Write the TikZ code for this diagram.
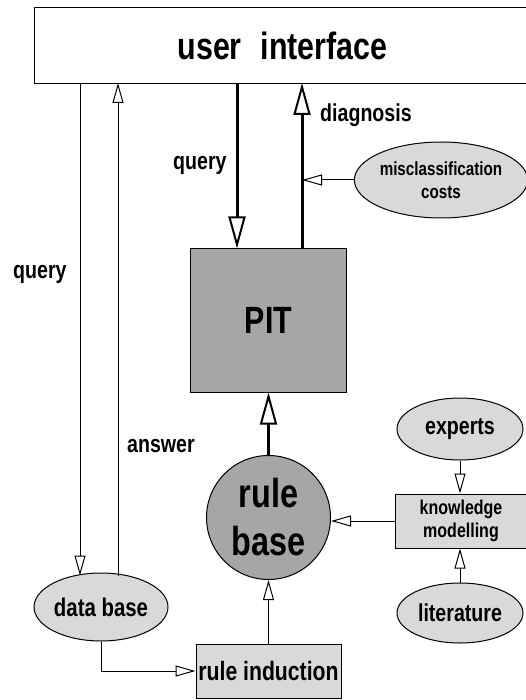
\documentclass[tikz,border=0pt]{standalone}
\usepackage{fontspec}
\setmainfont{Liberation Sans}[FakeStretch=0.8]
\usetikzlibrary{arrows.meta,shapes.geometric}
\definecolor{lightg}{HTML}{D9D9D9}
\definecolor{darkg}{HTML}{A6A6A6}
\tikzset{
  base/.style={draw, line width=1pt, inner sep=0pt, align=center, font=\bfseries},
  ell/.style={base, ellipse, fill=lightg},
  lbox/.style={base, rectangle, fill=lightg},
  thinarr/.style={line width=1pt, -{Triangle[open,length=20pt,width=11pt,line width=1pt]}},
  thickarr/.style={line width=3pt, -{Triangle[open,length=32pt,width=17pt,line width=2pt]}},
  lbl/.style={inner sep=0pt, anchor=base west, font=\bfseries}
}
\begin{document}
\begin{tikzpicture}[x=1pt,y=-1pt]
\useasboundingbox (0,0) rectangle (526,700);
\fill[white] (0,0) rectangle (526,700);
% nodes
\node[base, rectangle, fill=white, minimum width=496pt, minimum height=76pt, anchor=north west,
      font=\bfseries\fontsize{38}{42}\selectfont] (ui) at (34,7) {user\hspace{0.5em}interface};
\node[base, rectangle, fill=darkg, minimum width=156pt, minimum height=143pt,
      font=\bfseries\fontsize{38}{42}\selectfont] (pit) at (268.5,320.5) {PIT};
\node[base, circle, fill=darkg, minimum size=124pt,
      font=\bfseries\fontsize{40.5}{48}\selectfont] (rb) at (268.5,517.5) {rule\\base};
\node[ell, minimum width=172pt, minimum height=76pt,
      font=\bfseries\fontsize{19}{23}\selectfont] (mc) at (441,180) {misclassification\\costs};
\node[ell, minimum width=126pt, minimum height=62pt,
      font=\bfseries\fontsize{24.5}{28}\selectfont] (ex) at (460,429) {experts};
\node[lbox, minimum width=132pt, minimum height=54pt,
      font=\bfseries\fontsize{20}{23}\selectfont] (km) at (461,521) {knowledge\\modelling};
\node[ell, minimum width=126pt, minimum height=60pt,
      font=\bfseries\fontsize{24.5}{28}\selectfont] (lit) at (460,613) {literature};
\node[ell, minimum width=134pt, minimum height=68pt,
      font=\bfseries\fontsize{25.5}{29}\selectfont] (db) at (101,607) {data base};
\node[lbox, minimum width=145pt, minimum height=54pt,
      font=\bfseries\fontsize{26.5}{30}\selectfont] (ri) at (268.5,671) {rule induction};
% helper coordinates
\coordinate (qx) at (80,83);
\coordinate (ax) at (118,83);
\coordinate (qm) at (237,83);
\coordinate (dg) at (302,83);
% connectors
\draw[thinarr] (qx) -- ([yshift=-3pt]qx |- db.north);
\draw[thinarr] ([yshift=-3pt]ax |- db.north) -- (ax);
\draw[thickarr] (qm) -- (qm |- pit.north);
\draw[thickarr] (dg |- pit.north) -- (dg);
\draw[thinarr] (mc.west) -- (mc.west -| dg);
\draw[thickarr] (rb.north) -- (pit.south);
\draw[thinarr] (ex.south) -- (ex.south |- km.north);
\draw[thinarr] (lit.north) -- (lit.north |- km.south);
\draw[thinarr] (km.west) -- (km.west -| rb.east);
\draw[thinarr] (db.south) -- (db.south |- ri.west) -- (ri.west);
\draw[thinarr] (ri.north) -- (rb.south);
% labels
\node[lbl, font=\bfseries\fontsize{24.5}{28}\selectfont] (ldiag) at (320,122) {diagnosis};
\node[lbl, font=\bfseries\fontsize{24.5}{28}\selectfont] (lq1) at (173,170) {query};
\node[lbl, font=\bfseries\fontsize{24.5}{28}\selectfont] (lq2) at (13,278) {query};
\node[lbl, font=\bfseries\fontsize{24.5}{28}\selectfont] (lans) at (127,452) {answer};
\end{tikzpicture}
\end{document}
